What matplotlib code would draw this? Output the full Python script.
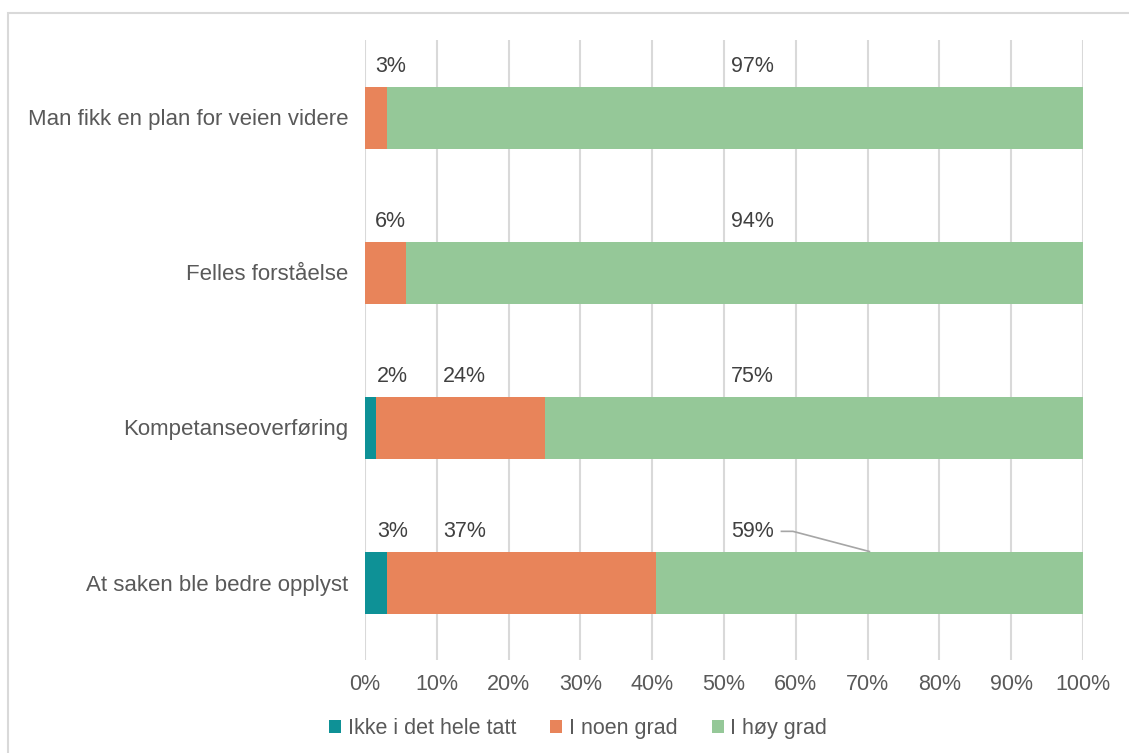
import numpy as np
import matplotlib.pyplot as plt
from matplotlib.patches import Rectangle

plt.rcParams['font.family'] = ['Liberation Sans', 'DejaVu Sans']

categories = ['Man fikk en plan for veien videre', 'Felles forståelse',
              'Kompetanseoverføring', 'At saken ble bedre opplyst']
series = ['Ikke i det hele tatt', 'I noen grad', 'I høy grad']
ikke = [0.0, 0.0, 1.5, 3.1]
noen = [3.1, 5.7, 23.6, 37.4]
hoy = [96.9, 94.3, 74.9, 59.5]
labels_ikke = ['', '', '2%', '3%']
labels_noen = ['3%', '6%', '24%', '37%']
labels_hoy = ['97%', '94%', '75%', '59%']
colors = ['#0E9196', '#E8845A', '#95C898']

fig = plt.figure(figsize=(11.29, 7.53), dpi=100)
fig.patches.append(Rectangle((8 / 1129, -0.05), 1.1, 1 - 13 / 753 + 0.05,
                             transform=fig.transFigure, fill=False,
                             edgecolor='#D9D9D9', linewidth=1.5))
ax = fig.add_axes([365 / 1129, 93 / 753, 718 / 1129, 620 / 753])

y = np.arange(len(categories))
left = np.zeros(len(categories))
for vals, name, c in zip([ikke, noen, hoy], series, colors):
    ax.barh(y, vals, left=left, height=0.4, color=c, label=name, zorder=3)
    left = left + np.array(vals)

# data labels sit above the bars, like the dragged Excel labels
lab_y = y - 0.33
txt = dict(fontsize=15.5, color='#404040', ha='center', va='center', zorder=4)
for i in range(len(categories)):
    if labels_ikke[i]:
        ax.text(3.8, lab_y[i], labels_ikke[i], **txt)
        ax.text(13.9, lab_y[i], labels_noen[i], **txt)
    else:
        ax.text(3.6, lab_y[i], labels_noen[i], **txt)
    ax.text(54.0, lab_y[i], labels_hoy[i], **txt)

# leader line for the last green label
g_mid = ikke[3] + noen[3] + hoy[3] / 2
ax.plot([58.0, 59.6, g_mid], [lab_y[3], lab_y[3], y[3] - 0.2],
        color='#A6A6A6', linewidth=1.2, zorder=4)

ax.set_xlim(0, 100)
ax.set_ylim(len(categories) - 0.5, -0.5)
ax.set_xticks(np.arange(0, 101, 10))
ax.set_xticklabels([f'{v}%' for v in range(0, 101, 10)])
ax.set_yticks(y)
ax.set_yticklabels(categories, fontsize=16)
ax.tick_params(axis='x', length=0, labelsize=15.5, labelcolor='#595959', pad=10)
ax.tick_params(axis='y', length=0, labelcolor='#595959', pad=12)
ax.grid(axis='x', color='#D9D9D9', linewidth=1.5, zorder=0)
for s in ax.spines.values():
    s.set_visible(False)

fig.legend(loc='center', bbox_to_anchor=(0.512, 0.033), ncol=3, frameon=False,
           fontsize=15.5, handlelength=0.55, handleheight=0.55, handletextpad=0.3,
           columnspacing=1.6, labelcolor='#595959')

fig.savefig('out.png', dpi=100)
